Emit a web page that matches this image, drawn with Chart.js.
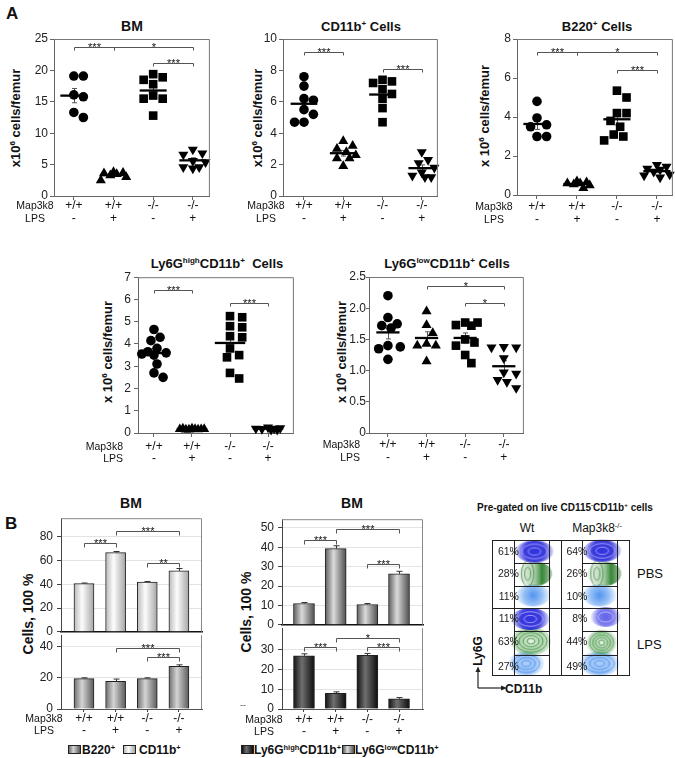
<!DOCTYPE html>
<html><head><meta charset="utf-8">
<script src="https://cdn.jsdelivr.net/npm/chart.js@4/dist/chart.umd.min.js"></script>
<style>
html,body{margin:0;padding:0;background:#fff;overflow:hidden}
body{width:675px;height:758px;position:relative;font-family:Arial,"Liberation Sans",sans-serif;color:#111}
canvas{position:absolute}
.t{position:absolute;white-space:nowrap;line-height:1}
.c{transform:translate(-50%,-50%)}
.rot{transform:translate(-50%,-50%) rotate(-90deg)}
sup{font-size:0.62em;vertical-align:0.55em;line-height:0}
.box{position:absolute;width:11px;height:7px;border:1px solid #222}
</style></head><body>
<div class="t" style="left:6px;top:4px;font:bold 17px Arial,'Liberation Sans'">A</div>
<div class="t c" style="left:132px;top:26px;font:bold 14px Arial,'Liberation Sans'">BM</div>
<div class="t c" style="left:361px;top:26px;font:bold 13px Arial,'Liberation Sans'">CD11b<sup>+</sup> Cells</div>
<div class="t c" style="left:597px;top:26px;font:bold 13px Arial,'Liberation Sans'">B220<sup>+</sup> Cells</div>
<div class="t c" style="left:217px;top:263px;font:bold 13px Arial,'Liberation Sans'">Ly6G<sup>high</sup>CD11b<sup>+</sup>&nbsp; Cells</div>
<div class="t c" style="left:447px;top:263px;font:bold 13px Arial,'Liberation Sans'">Ly6G<sup>low</sup>CD11b<sup>+</sup> Cells</div>
<div class="t rot" style="left:15px;top:118px;font:bold 13px Arial,'Liberation Sans'">x10<sup>6</sup> cells/femur</div>
<div class="t rot" style="left:257px;top:118px;font:bold 13px Arial,'Liberation Sans'">x10<sup>6</sup> cells/femur</div>
<div class="t rot" style="left:484px;top:116px;font:bold 13px Arial,'Liberation Sans'">x 10<sup>6</sup> cells/femur</div>
<div class="t rot" style="left:107px;top:352px;font:bold 13px Arial,'Liberation Sans'">x 10<sup>6</sup> cells/femur</div>
<div class="t rot" style="left:341px;top:352px;font:bold 13px Arial,'Liberation Sans'">x 10<sup>6</sup> cells/femur</div>

<div class="t" style="left:5px;top:514px;font:bold 17px Arial,'Liberation Sans'">B</div>
<div class="t c" style="left:131px;top:503px;font:bold 14px Arial,'Liberation Sans'">BM</div>
<div class="t c" style="left:352px;top:503px;font:bold 14px Arial,'Liberation Sans'">BM</div>
<div class="t rot" style="left:28px;top:614px;font:bold 14px Arial,'Liberation Sans'">Cells, 100 %</div>
<div class="t rot" style="left:246px;top:612px;font:bold 14px Arial,'Liberation Sans'">Cells, 100 %</div>
<div class="t" style="left:240px;top:700px;font:9px Arial,'Liberation Sans';color:#555">--</div>

<div class="box" style="left:68px;top:745px;background:linear-gradient(90deg,#6e6e6e,#d4d4d4 40%,#5a5a5a)"></div>
<div class="t" style="left:82px;top:743px;font:bold 12px Arial,'Liberation Sans'">B220<sup>+</sup></div>
<div class="box" style="left:123px;top:745px;background:linear-gradient(90deg,#b9b9b9,#fdfdfd 40%,#a5a5a5)"></div>
<div class="t" style="left:139px;top:743px;font:bold 12px Arial,'Liberation Sans'">CD11b<sup>+</sup></div>
<div class="box" style="left:241px;top:745px;background:linear-gradient(90deg,#111,#6f6f6f 40%,#0c0c0c)"></div>
<div class="t" style="left:254px;top:743px;font:bold 12px Arial,'Liberation Sans'">Ly6G<sup>high</sup>CD11b<sup>+</sup></div>
<div class="box" style="left:342px;top:745px;background:linear-gradient(90deg,#5e5e5e,#dadada 40%,#4e4e4e)"></div>
<div class="t" style="left:355px;top:743px;font:bold 12px Arial,'Liberation Sans'">Ly6G<sup>low</sup>CD11b<sup>+</sup></div>

<div class="t c" style="left:565px;top:507px;font:bold 10px Arial,'Liberation Sans'">Pre-gated on live CD115<sup>-</sup>CD11b<sup>+</sup> cells</div>
<div class="t c" style="left:527px;top:528px;font:12px Arial,'Liberation Sans'">Wt</div>
<div class="t c" style="left:597px;top:528px;font:12px Arial,'Liberation Sans'">Map3k8<sup>-/-</sup></div>
<div class="t" style="left:637px;top:566px;font:13px Arial,'Liberation Sans'">PBS</div>
<div class="t" style="left:637px;top:637px;font:13px Arial,'Liberation Sans'">LPS</div>
<div class="t rot" style="left:478px;top:651px;font:bold 12px Arial,'Liberation Sans'">Ly6G</div>
<div class="t" style="left:505px;top:682px;font:bold 12px Arial,'Liberation Sans'">CD11b</div>
<svg style="position:absolute;left:470px;top:664px" width="40" height="30">
<path d="M8 24 V7" stroke="#222" stroke-width="1.2" fill="none"/><path d="M5.5 8 L8 2.5 L10.5 8Z" fill="#222"/>
<path d="M8 24 H32" stroke="#222" stroke-width="1.2" fill="none"/><path d="M31 21.5 L37 24 L31 26.5Z" fill="#222"/>
</svg>

<script>
// ---------------- DATA ----------------
const genotypeLabels = ['+/+', '+/+', '-/-', '-/-'];
const lpsLabels = ['-', '+', '-', '+'];

// Panel A: per-mouse counts (x10^6 cells/femur), one inner array per group
const bmCells = [
  [19.1, 19.1, 16.1, 15.8, 13.3, 12.5],
  [3.8, 3.7, 3.6, 3.5, 3.3, 3.0, 2.5],
  [19.4, 18.9, 18.5, 17.8, 16.0, 15.5, 15.5, 12.8],
  [7.4, 6.8, 6.6, 5.6, 5.4, 4.6, 4.6, 4.4]
];
const cd11bCells = [
  [7.6, 7.0, 6.2, 6.1, 5.5, 5.2, 4.7, 4.7],
  [3.5, 3.2, 3.0, 2.8, 2.6, 2.4, 2.4, 1.9],
  [7.4, 7.3, 7.2, 6.8, 6.5, 6.2, 5.6, 4.7],
  [2.8, 2.3, 2.1, 1.8, 1.5, 1.3, 1.2, 1.2]
];
const b220Cells = [
  [4.8, 3.95, 3.6, 3.5, 3.0, 3.0],
  [0.7, 0.65, 0.6, 0.6, 0.55, 0.5, 0.35],
  [5.35, 5.0, 4.2, 4.2, 3.8, 3.5, 3.1, 3.0, 2.8],
  [1.55, 1.45, 1.35, 1.3, 1.2, 1.05, 1.0, 0.9]
];
const ly6gHighCells = [
  [4.65, 4.3, 4.15, 3.8, 3.65, 3.6, 3.55, 3.5, 3.1, 2.7, 2.5],
  [0.2, 0.18, 0.17, 0.16, 0.15, 0.18, 0.2, 0.15, 0.17],
  [5.25, 5.2, 4.8, 4.75, 4.35, 4.3, 3.8, 3.5, 3.4, 2.7, 2.45],
  [0.25, 0.22, 0.2, 0.2, 0.18, 0.15, 0.15]
];
const ly6gLowCells = [
  [2.2, 1.85, 1.75, 1.72, 1.68, 1.4, 1.38, 1.35, 1.18],
  [1.95, 1.73, 1.6, 1.43, 1.4, 1.4, 1.15],
  [1.77, 1.77, 1.73, 1.72, 1.5, 1.45, 1.4, 1.25, 1.12],
  [1.38, 1.37, 1.37, 1.2, 0.97, 0.95, 0.85, 0.82, 0.72]
];
const bmTicks = [0, 5, 10, 15, 20, 25];
const cd11bTicks = [0, 2, 4, 6, 8, 10];
const b220Ticks = [0, 2, 4, 6, 8];
const ly6gHighTicks = [0, 1, 2, 3, 4, 5, 6, 7];
const ly6gLowTicks = [0, 0.5, 1, 1.5, 2, 2.5];

// significance brackets: [from group, to group, level, label]
const bmSig = [[1, 2, 23.7, '***'], [2, 4, 23.7, '*'], [3, 4, 21.1, '***']];
const cd11bSig = [[1, 2, 9.2, '***'], [3, 4, 8.1, '***']];
const b220Sig = [[1, 2, 7.35, '***'], [2, 4, 7.35, '*'], [3, 4, 6.4, '***']];
const ly6gHighSig = [[1, 2, 6.42, '***'], [3, 4, 5.82, '***']];
const ly6gLowSig = [[2, 4, 2.36, '*'], [3, 4, 2.08, '*']];

// Panel B: % of cells (mean and error)
const pctCD11b = [40.5, 66.5, 41.8, 51.2];
const pctCD11bErr = [0.5, 1.0, 0.5, 2.0];
const pctB220 = [19.6, 17.8, 19.6, 27.5];
const pctB220Err = [0.5, 1.5, 0.5, 1.0];
const pctLy6gLow = [11.0, 39.3, 10.5, 26.3];
const pctLy6gLowErr = [0.5, 1.5, 0.5, 1.3];
const pctLy6gHigh = [27.0, 8.0, 27.2, 5.2];
const pctLy6gHighErr = [1.0, 0.7, 1.0, 0.6];
const pctTicksCD11b = [0, 20, 40, 60, 80];
const pctTicksB220 = [0, 20, 40];
const pctTicksLow = [0, 10, 20, 30, 40, 50];
const pctTicksHigh = [0, 10, 20, 30];
const sigCD11b = [[1, 2, 74.3, '***'], [2, 4, 84.9, '***'], [3, 4, 58, '**']];
const sigB220 = [[2, 4, 39.4, '***'], [3, 4, 33.7, '***']];
const sigLow = [[1, 2, 44, '***'], [2, 4, 49.5, '***'], [3, 4, 31.5, '***']];
const sigHigh = [[1, 2, 31.5, '***'], [2, 4, 36, '*'], [3, 4, 31.5, '***']];

// Flow cytometry: gate percentages [Ly6G high, Ly6G low, Ly6G neg]
const flowWtPBS = [61, 28, 11];
const flowKoPBS = [64, 26, 10];
const flowWtLPS = [11, 63, 27];
const flowKoLPS = [8, 44, 49];
// population centres (CD11b, Ly6G) in plot units of each cell (0..1)
const flowPopsWtPBS = [[0.62, 0.83], [0.63, 0.5], [0.6, 0.18]];
const flowPopsKoPBS = [[0.61, 0.84], [0.64, 0.5], [0.57, 0.18]];
const flowPopsWtLPS = [[0.56, 0.83], [0.57, 0.5], [0.5, 0.17]];
const flowPopsKoLPS = [[0.66, 0.86], [0.6, 0.48], [0.57, 0.17]];

// ---------------- HELPERS ----------------
const FONT = 'Arial, "Liberation Sans", sans-serif';
Chart.defaults.font.family = FONT;
Chart.defaults.color = '#222';
const mean = a => a.reduce((s, v) => s + v, 0) / a.length;
const sem = a => { const m = mean(a); return Math.sqrt(a.reduce((s, v) => s + (v - m) ** 2, 0) / (a.length - 1)) / Math.sqrt(a.length); };

function place(L, T, R, B, Wy, Hx, padT, padR) {
  const c = document.createElement('canvas');
  const w = R - L + Wy + padR, h = B - T + padT + Hx;
  c.width = w; c.height = h;
  Object.assign(c.style, { left: (L - Wy) + 'px', top: (T - padT) + 'px', width: w + 'px', height: h + 'px' });
  document.body.appendChild(c);
  return c;
}
function swarm(vals, gi, pxX, pxY, diam) {
  const cands = [0]; for (let k = 1; k <= 4; k++) cands.push(k * 0.08, -k * 0.08);
  const placed = [], out = [];
  vals.forEach(v => {
    let best = 0, bestScore = -1;
    cands.forEach(c => {
      let md = Infinity;
      placed.forEach(p => { md = Math.min(md, Math.hypot((p.o - c) * pxX, (p.v - v) * pxY)); });
      const s = Math.min(md, diam);
      if (s > bestScore + 0.01) { bestScore = s; best = c; }
    });
    placed.push({ o: best, v }); out.push({ x: gi + best, y: v });
  });
  return out;
}
function drawSig(chart, list, tick) {
  const { ctx, scales: { x, y } } = chart;
  ctx.save(); ctx.strokeStyle = '#555'; ctx.lineWidth = 1; ctx.fillStyle = '#111';
  ctx.font = '11px ' + FONT; ctx.textAlign = 'center'; ctx.textBaseline = 'alphabetic';
  list.forEach(([a, b, v, lab]) => {
    const x1 = Math.round(x.getPixelForValue(a)) + 0.5, x2 = Math.round(x.getPixelForValue(b)) + 0.5;
    const py = Math.round(y.getPixelForValue(v)) + 0.5;
    ctx.beginPath(); ctx.moveTo(x1, py + tick); ctx.lineTo(x1, py); ctx.lineTo(x2, py); ctx.lineTo(x2, py + tick); ctx.stroke();
    ctx.fillText(lab, (x1 + x2) / 2, py + 3.5);
  });
  ctx.restore();
}
function drawRows(chart, g) {
  const { ctx, chartArea: ca, scales: { x } } = chart;
  ctx.save(); ctx.fillStyle = '#111'; ctx.textBaseline = 'middle';
  ctx.font = '12px ' + FONT; ctx.textAlign = 'center';
  genotypeLabels.forEach((lab, i) => {
    const px = x.getPixelForValue(i + 1);
    ctx.fillText(lab, px, ca.bottom + g.r1);
    ctx.fillText(lpsLabels[i], px, ca.bottom + g.r2);
  });
  ctx.font = '10.5px ' + FONT; ctx.textAlign = g.rowAlign;
  ctx.fillText('Map3k8', ca.left + g.rowX, ca.bottom + g.r1);
  ctx.fillText('LPS', ca.left + g.rowX, ca.bottom + g.r2);
  ctx.restore();
}
const fixTicks = arr => s => { s.ticks = arr.map(v => ({ value: v })); };

// ---------------- PANEL A (scatter) ----------------
const markers = [
  { style: 'circle', r: 4.8, rot: 0 },
  { style: 'triangle', r: 5.8, rot: 0 },
  { style: 'rect', r: 6.1, rot: 0 },
  { style: 'triangle', r: 5.8, rot: 180 }
];
function scatterPanel(g) {
  const Wy = 62, Hx = 34, padT = 10, padR = 6;
  const cv = place(g.L, g.T, g.R, g.B, Wy, Hx, padT, padR);
  const ymax = g.ticks[g.ticks.length - 1];
  const pxX = (g.R - g.L) / (g.xmax - g.xmin), pxY = (g.B - g.T) / ymax;
  const datasets = [];
  g.data.forEach((vals, i) => datasets.push({
    data: swarm(vals, i + 1, pxX, pxY, 9.4), pointStyle: markers[i].style, pointRadius: markers[i].r,
    pointRotation: markers[i].rot, pointBackgroundColor: '#000', pointBorderWidth: 0, clip: false
  }));
  g.data.forEach((vals, i) => {
    const m = mean(vals);
    datasets.push({ data: [{ x: i + 1 - g.half, y: m }, { x: i + 1 + g.half, y: m }], showLine: true,
      borderColor: '#000', borderWidth: 2.3, pointRadius: 0, clip: false });
  });
  new Chart(cv, {
    type: 'scatter', data: { datasets },
    options: {
      responsive: false, animation: false, devicePixelRatio: 1, events: [],
      layout: { padding: { top: padT, right: padR, left: 0, bottom: 0 } },
      plugins: { legend: { display: false }, tooltip: { enabled: false } },
      scales: {
        x: { type: 'linear', min: g.xmin, max: g.xmax, afterBuildTicks: fixTicks([1, 2, 3, 4]),
          ticks: { display: false }, grid: { drawOnChartArea: false, tickLength: 4, color: '#666' },
          border: { color: '#666' }, afterFit: s => { s.height = Hx; } },
        y: { type: 'linear', min: 0, max: ymax, afterBuildTicks: fixTicks(g.ticks),
          ticks: { padding: g.tpad, font: { size: 12 }, color: '#222', callback: g.fmt },
          grid: { drawOnChartArea: false, tickLength: g.tlen, color: '#666' },
          border: { color: '#666' }, afterFit: s => { s.width = Wy; } }
      }
    },
    plugins: [{
      id: 'deco',
      beforeDatasetsDraw(chart) {
        const { ctx, scales: { x, y } } = chart;
        ctx.save(); ctx.strokeStyle = '#555'; ctx.lineWidth = 1;
        g.data.forEach((vals, i) => {
          const m = mean(vals), s = sem(vals);
          const px = Math.round(x.getPixelForValue(i + 1)) + 0.5;
          const y1 = y.getPixelForValue(m + s), y2 = y.getPixelForValue(m - s);
          ctx.beginPath(); ctx.moveTo(px, y1); ctx.lineTo(px, y2);
          ctx.moveTo(px - 2.5, y1); ctx.lineTo(px + 2.5, y1); ctx.moveTo(px - 2.5, y2); ctx.lineTo(px + 2.5, y2);
          ctx.stroke();
        });
        ctx.restore();
      },
      afterDraw(chart) {
        const { ctx, chartArea: ca } = chart;
        ctx.save(); ctx.strokeStyle = '#777'; ctx.lineWidth = 1;
        ctx.beginPath(); ctx.moveTo(ca.left, ca.top + 0.5); ctx.lineTo(ca.right - 0.5, ca.top + 0.5); ctx.lineTo(ca.right - 0.5, ca.bottom); ctx.stroke();
        ctx.restore();
        drawSig(chart, g.sig, 3);
        drawRows(chart, g);
      }
    }]
  });
}
const plain = v => String(v);
scatterPanel({ L: 54, T: 39, R: 210, B: 196, xmin: 0.5, xmax: 4.43, ticks: bmTicks, data: bmCells, sig: bmSig, r1: 10, r2: 23, rowX: -19, rowAlign: 'center', half: 0.34, fmt: plain, tpad: 2, tlen: 4 });
scatterPanel({ L: 283, T: 39, R: 438, B: 196, xmin: 0.466, xmax: 4.41, ticks: cd11bTicks, data: cd11bCells, sig: cd11bSig, r1: 10, r2: 23, rowX: -17, rowAlign: 'center', half: 0.34, fmt: plain, tpad: 2, tlen: 4 });
scatterPanel({ L: 517, T: 39, R: 673, B: 195, xmin: 0.5, xmax: 4.4, ticks: b220Ticks, data: b220Cells, sig: b220Sig, r1: 12, r2: 25, rowX: -23, rowAlign: 'center', half: 0.34, fmt: plain, tpad: 2, tlen: 4 });
scatterPanel({ L: 138, T: 277, R: 294, B: 433, xmin: 0.58, xmax: 4.68, ticks: ly6gHighTicks, data: ly6gHighCells, sig: ly6gHighSig, r1: 14, r2: 26, rowX: -15, rowAlign: 'right', half: 0.4, fmt: plain, tpad: 3, tlen: 4 });
scatterPanel({ L: 369, T: 277, R: 524, B: 433, xmin: 0.51, xmax: 4.52, ticks: ly6gLowTicks, data: ly6gLowCells, sig: ly6gLowSig, r1: 12, r2: 25, rowX: -9, rowAlign: 'right', half: 0.3, fmt: v => v === 0 ? '0' : v.toFixed(1), tpad: 0, tlen: 3 });

// ---------------- PANEL B (broken bar charts) ----------------
function barPanel(g) {
  const Wy = 62, padT = 10, padR = 6, Hx = g.rows ? 34 : 9;
  const cv = place(g.L, g.T, g.R, g.B, Wy, Hx, padT, padR);
  const grad = ctx => {
    const chart = ctx.chart, xs = chart.scales && chart.scales.x;
    if (!xs || ctx.type !== 'data') return g.colors[1];
    const px = xs.getPixelForValue(ctx.raw.x);
    if (!isFinite(px)) return g.colors[1];
    const gr = chart.ctx.createLinearGradient(px - g.bw / 2, 0, px + g.bw / 2, 0);
    gr.addColorStop(0, g.colors[0]); gr.addColorStop(0.4, g.colors[1]); gr.addColorStop(1, g.colors[2]);
    return gr;
  };
  new Chart(cv, {
    type: 'bar',
    data: { datasets: [{ data: g.values.map((v, i) => ({ x: i + 1, y: v })), barThickness: g.bw,
      backgroundColor: grad, borderColor: '#222', borderWidth: 1 }] },
    options: {
      responsive: false, animation: false, devicePixelRatio: 1, events: [],
      layout: { padding: { top: padT, right: padR, left: 0, bottom: 0 } },
      plugins: { legend: { display: false }, tooltip: { enabled: false } },
      scales: {
        x: { type: 'linear', min: g.xmin, max: g.xmax, offset: false, afterBuildTicks: fixTicks([1, 2, 3, 4]),
          ticks: { display: false },
          grid: { offset: false, drawOnChartArea: false, drawTicks: !!g.rows, tickLength: 3, color: '#444' },
          border: { color: g.rows ? '#555' : '#111', width: g.rows ? 1 : 1.5 },
          afterFit: s => { s.height = Hx; } },
        y: { type: 'linear', min: 0, max: g.ymax, afterBuildTicks: fixTicks(g.ticks),
          ticks: { padding: 4, font: { size: 12 }, color: '#222' },
          grid: { color: '#e3e3e3', tickColor: '#444', tickLength: 4 },
          border: { color: '#444' }, afterFit: s => { s.width = Wy; } }
      }
    },
    plugins: [{
      id: 'deco',
      afterDatasetsDraw(chart) {
        const { ctx, chartArea: ca, scales: { x, y } } = chart;
        ctx.save(); ctx.strokeStyle = '#888'; ctx.lineWidth = 1;
        ctx.beginPath();
        if (!g.rows) { ctx.moveTo(ca.left, ca.top + 0.5); ctx.lineTo(ca.right - 0.5, ca.top + 0.5); }
        else ctx.moveTo(ca.right - 0.5, ca.top);
        ctx.lineTo(ca.right - 0.5, ca.bottom); ctx.stroke();
        ctx.strokeStyle = '#333';
        g.values.forEach((v, i) => {
          const px = Math.round(x.getPixelForValue(i + 1)) + 0.5;
          const y1 = y.getPixelForValue(v), y2 = y.getPixelForValue(v + g.errors[i]);
          ctx.beginPath(); ctx.moveTo(px, y1); ctx.lineTo(px, y2); ctx.moveTo(px - 3, y2); ctx.lineTo(px + 3, y2); ctx.stroke();
        });
        ctx.restore();
        drawSig(chart, g.sig, 4);
        if (g.rows) drawRows(chart, g);
      }
    }]
  });
}
barPanel({ L: 61, T: 517, R: 202, B: 634, xmin: 0.274, xmax: 4.73, ymax: 95.5, ticks: pctTicksCD11b, values: pctCD11b, errors: pctCD11bErr, sig: sigCD11b, bw: 20, colors: ['#b9b9b9', '#fdfdfd', '#a5a5a5'] });
barPanel({ L: 61, T: 634, R: 202, B: 709, xmin: 0.274, xmax: 4.73, ymax: 47.6, ticks: pctTicksB220, values: pctB220, errors: pctB220Err, sig: sigB220, bw: 20, colors: ['#6e6e6e', '#d4d4d4', '#5a5a5a'], rows: true, r1: 10, r2: 22, rowX: -17, rowAlign: 'center' });
barPanel({ L: 282, T: 518, R: 423, B: 627, xmin: 0.306, xmax: 4.757, ymax: 54.5, ticks: pctTicksLow, values: pctLy6gLow, errors: pctLy6gLowErr, sig: sigLow, bw: 21, colors: ['#5e5e5e', '#dadada', '#4e4e4e'] });
barPanel({ L: 282, T: 627, R: 423, B: 709, xmin: 0.306, xmax: 4.757, ymax: 41, ticks: pctTicksHigh, values: pctLy6gHigh, errors: pctLy6gHighErr, sig: sigHigh, bw: 21, colors: ['#111111', '#6f6f6f', '#0c0c0c'], rows: true, r1: 11, r2: 23, rowX: -18, rowAlign: 'center' });

// ---------------- FLOW CYTOMETRY PANEL ----------------
function blob(w, h, kind) {
  const c = document.createElement('canvas'); c.width = w + 4; c.height = h + 4;
  const g = c.getContext('2d'); const cx = c.width / 2, cy = c.height / 2;
  g.save(); g.beginPath(); g.ellipse(cx, cy, w / 2, h / 2, 0, 0, Math.PI * 2); g.clip();
  let fill;
  if (kind === 'green') {
    fill = g.createLinearGradient(cx - w / 2, 0, cx + w / 2, 0);
    fill.addColorStop(0, 'rgba(120,170,120,0.15)'); fill.addColorStop(0.45, 'rgba(90,160,90,0.45)');
    fill.addColorStop(0.7, 'rgba(30,120,30,0.9)'); fill.addColorStop(1, 'rgba(30,110,30,0.35)');
  } else {
    const st = {
      blue: ['rgba(50,50,225,1)', 'rgba(40,40,215,0.9)', 'rgba(60,60,230,0.15)'],
      blueLight: ['rgba(80,80,235,0.9)', 'rgba(70,70,230,0.7)', 'rgba(90,90,235,0.1)'],
      greenBig: ['rgba(235,245,235,0.9)', 'rgba(110,175,110,0.55)', 'rgba(60,140,60,0.15)'],
      light: ['rgba(60,135,235,0.9)', 'rgba(80,150,240,0.6)', 'rgba(90,160,245,0.1)'],
      lightRings: ['rgba(150,195,250,0.8)', 'rgba(80,150,240,0.55)', 'rgba(90,160,245,0.1)']
    }[kind];
    fill = g.createRadialGradient(cx, cy, 0, cx, cy, Math.max(w, h) / 2);
    fill.addColorStop(0, st[0]); fill.addColorStop(0.55, st[1]); fill.addColorStop(1, st[2]);
  }
  g.fillStyle = fill; g.fillRect(0, 0, c.width, c.height); g.restore();
  const rings = { blue: [2, 'rgba(190,190,255,0.9)', 0], blueLight: [1, 'rgba(200,200,255,0.9)', 0],
    green: [2, 'rgba(50,130,50,0.9)', -0.22], greenBig: [4, 'rgba(50,140,50,0.95)', 0],
    light: [0, '', 0], lightRings: [3, 'rgba(60,130,230,0.9)', 0] }[kind];
  g.strokeStyle = rings[1]; g.lineWidth = 0.8;
  for (let i = 1; i <= rings[0]; i++) {
    const f = i / (rings[0] + 1);
    const rx = kind === 'green' ? w * 0.17 * f * 1.6 : (w / 2) * f;
    g.beginPath(); g.ellipse(cx + rings[2] * w, cy, rx, (h / 2) * f * (kind === 'green' ? 1.6 : 1), 0, 0, Math.PI * 2); g.stroke();
  }
  return c;
}
(function flowPanel() {
  const L = 489, T = 537, R = 632, B = 678;
  const cv = document.createElement('canvas');
  const w = R - L + 4, h = B - T + 4;
  cv.width = w; cv.height = h;
  Object.assign(cv.style, { left: (L - 2) + 'px', top: (T - 2) + 'px', width: w + 'px', height: h + 'px' });
  document.body.appendChild(cv);
  const cells = [
    { col: 0, row: 1, pops: flowPopsWtPBS, pct: flowWtPBS, kinds: ['blue', 'green', 'light'], sizes: [[38, 22], [34, 24], [34, 22]], gy: [0.66, 0.32], ty: [0.82, 0.5, 0.15] },
    { col: 1, row: 1, pops: flowPopsKoPBS, pct: flowKoPBS, kinds: ['blue', 'green', 'light'], sizes: [[38, 22], [34, 24], [34, 22]], gy: [0.66, 0.32], ty: [0.82, 0.5, 0.15] },
    { col: 0, row: 0, pops: flowPopsWtLPS, pct: flowWtLPS, kinds: ['blue', 'greenBig', 'lightRings'], sizes: [[38, 22], [40, 28], [36, 24]], gy: [0.65, 0.30], ty: [0.83, 0.49, 0.12] },
    { col: 1, row: 0, pops: flowPopsKoLPS, pct: flowKoLPS, kinds: ['blueLight', 'greenBig', 'lightRings'], sizes: [[30, 20], [30, 26], [40, 24]], gy: [0.65, 0.30], ty: [0.83, 0.49, 0.12] }
  ];
  const gx = [0.32, 0.825];
  const datasets = [];
  cells.forEach(c => c.pops.forEach((p, i) => {
    datasets.push({ data: [{ x: c.col + p[0], y: c.row + p[1] }], pointStyle: blob(c.sizes[i][0], c.sizes[i][1], c.kinds[i]), pointRadius: 3, clip: false });
  }));
  new Chart(cv, {
    type: 'scatter', data: { datasets },
    options: {
      responsive: false, animation: false, devicePixelRatio: 1, events: [],
      layout: { padding: 2 },
      plugins: { legend: { display: false }, tooltip: { enabled: false } },
      scales: { x: { display: false, min: 0, max: 2 }, y: { display: false, min: 0, max: 2 } }
    },
    plugins: [{
      id: 'gates',
      afterDatasetsDraw(chart) {
        const { ctx, scales: { x, y } } = chart;
        const X = v => Math.round(x.getPixelForValue(v)) + 0.5, Y = v => Math.round(y.getPixelForValue(v)) + 0.5;
        ctx.save(); ctx.strokeStyle = '#222'; ctx.lineWidth = 1;
        ctx.strokeRect(X(0), Y(2), X(2) - X(0), Y(0) - Y(2));
        ctx.beginPath(); ctx.moveTo(X(1), Y(2)); ctx.lineTo(X(1), Y(0)); ctx.moveTo(X(0), Y(1)); ctx.lineTo(X(2), Y(1)); ctx.stroke();
        cells.forEach(c => {
          ctx.beginPath();
          gx.forEach(v => { ctx.moveTo(X(c.col + v), Y(c.row + 1)); ctx.lineTo(X(c.col + v), Y(c.row)); });
          c.gy.forEach(v => { ctx.moveTo(X(c.col + gx[0]), Y(c.row + v)); ctx.lineTo(X(c.col + gx[1]), Y(c.row + v)); });
          ctx.stroke();
        });
        ctx.fillStyle = '#222'; ctx.font = '10.5px ' + FONT; ctx.textAlign = 'right'; ctx.textBaseline = 'middle';
        cells.forEach(c => c.pct.forEach((p, i) => {
          ctx.fillText(p + '%', x.getPixelForValue(c.col + gx[0]) + 5, y.getPixelForValue(c.row + c.ty[i]));
        }));
        ctx.restore();
      }
    }]
  });
})();
</script>
</body></html>
